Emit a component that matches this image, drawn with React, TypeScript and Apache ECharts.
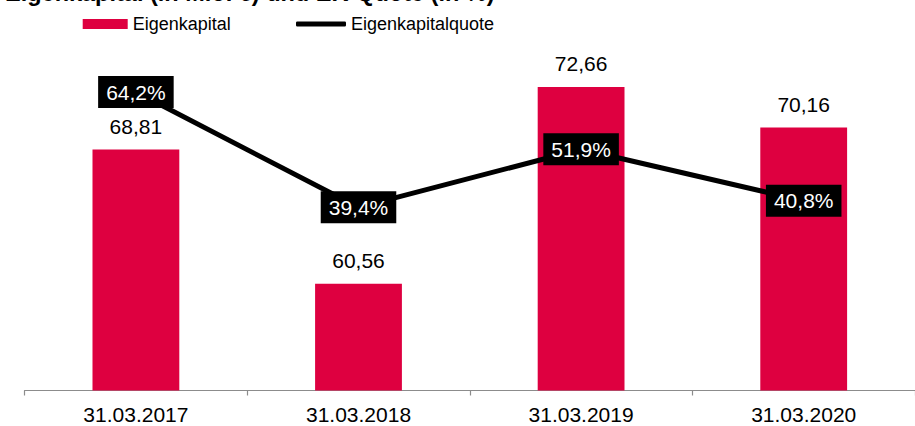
import React, { useEffect, useRef } from "react";
import * as echarts from "echarts";

const categories = ["31.03.2017", "31.03.2018", "31.03.2019", "31.03.2020"];
const eigenkapital = [68.81, 60.56, 72.66, 70.16];
const ekQuote = [64.2, 39.4, 51.9, 40.8];
const titleText = "Eigenkapital (in Mio. €) und EK-Quote (in %)";
const seriesNames = ["Eigenkapital", "Eigenkapitalquote"];

const FONT = "'Liberation Sans', Arial, Helvetica, sans-serif";

export default function App() {
  const ref = useRef<HTMLDivElement>(null);
  useEffect(() => {
    if (!ref.current) return;
    const chart = echarts.init(ref.current, undefined, { renderer: "svg" });
    chart.setOption({
      animation: false,
      backgroundColor: "#ffffff",
      textStyle: { fontFamily: FONT },
      graphic: [
        {
          type: "text",
          left: 5,
          top: -19,
          style: {
            text: titleText,
            font: `bold 23.5px ${FONT}`,
            fill: "#000000",
          },
        },
      ],
      legend: [
        {
          data: [seriesNames[0]],
          left: 77.7,
          top: 10,
          itemWidth: 45,
          itemHeight: 10,
          icon: "rect",
          textStyle: { fontSize: 18, color: "#000", fontFamily: FONT },
          selectedMode: false,
        },
        {
          data: [seriesNames[1]],
          left: 291,
          top: 10,
          itemWidth: 50,
          itemHeight: 5,
          icon: "roundRect",
          textStyle: { fontSize: 18, color: "#000", fontFamily: FONT },
          selectedMode: false,
        },
      ],
      grid: { left: 24.6, width: 899, top: -4.8, height: 395.3 },
      xAxis: {
        type: "category",
        data: categories,
        axisLine: { lineStyle: { color: "#8c8c8c", width: 1.2 } },
        axisTick: { show: true, length: 5, lineStyle: { color: "#8c8c8c", width: 1.2 } },
        axisLabel: { color: "#000", fontSize: 21, margin: 13, fontFamily: FONT },
      },
      yAxis: [
        { type: "value", min: 54, max: 78, show: false, splitLine: { show: false } },
        { type: "value", min: 0, max: 84, show: false, splitLine: { show: false } },
      ],
      series: [
        {
          name: seriesNames[0],
          type: "bar",
          data: eigenkapital,
          barWidth: "39%",
          yAxisIndex: 0,
          itemStyle: { color: "#DE0040" },
          label: {
            show: true,
            position: "top",
            distance: 13,
            color: "#000",
            fontSize: 21,
            fontFamily: FONT,
            formatter: (p: any) => p.value.toFixed(2).replace(".", ","),
          },
          z: 2,
        },
        {
          name: seriesNames[1],
          type: "line",
          data: ekQuote,
          yAxisIndex: 1,
          symbol: "circle",
          symbolSize: 1,
          showSymbol: true,
          lineStyle: { color: "#000", width: 5 },
          itemStyle: { color: "#000" },
          label: {
            show: true,
            position: "inside",
            color: "#fff",
            backgroundColor: "#000",
            padding: [6, 8, 5, 8],
            fontSize: 21,
            fontFamily: FONT,
            formatter: (p: any) => p.value.toFixed(1).replace(".", ",") + "%",
          },
          z: 5,
        },
      ],
    });
    return () => chart.dispose();
  }, []);
  return (
    <div
      ref={ref}
      style={{ position: "absolute", left: 0, top: 0, width: 915, height: 426 }}
    />
  );
}
